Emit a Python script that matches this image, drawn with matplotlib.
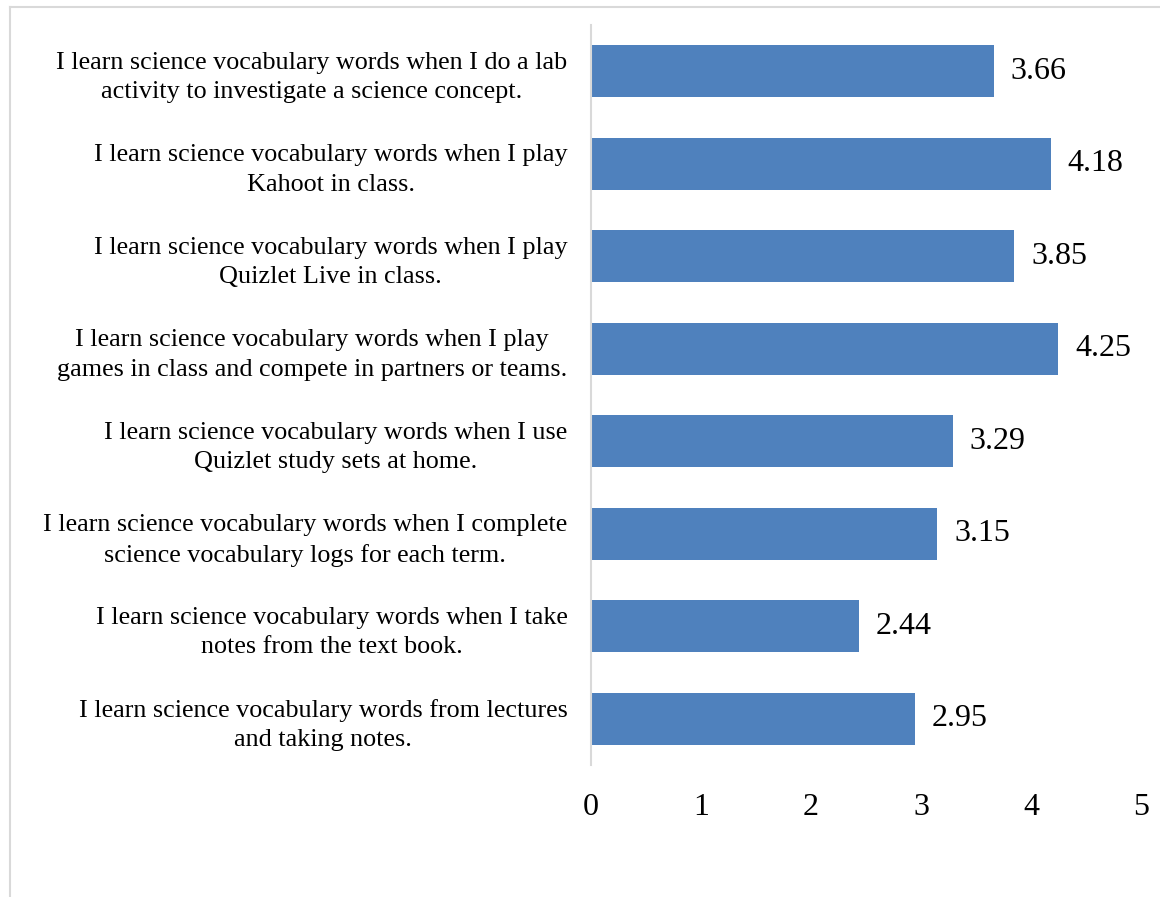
import numpy as np
import matplotlib
matplotlib.use('Agg')
import matplotlib.pyplot as plt
from matplotlib.lines import Line2D

labels = [
    'I learn science vocabulary words when I do a lab\nactivity to investigate a science concept.',
    'I learn science vocabulary words when I play\nKahoot in class.',
    'I learn science vocabulary words when I play\nQuizlet Live in class.',
    'I learn science vocabulary words when I play\ngames in class and compete in partners or teams.',
    'I learn science vocabulary words when I use\nQuizlet study sets at home.',
    'I learn science vocabulary words when I complete\nscience vocabulary logs for each term.',
    'I learn science vocabulary words when I take\nnotes from the text book.',
    'I learn science vocabulary words from lectures\nand taking notes.',
]
values = [3.66, 4.18, 3.85, 4.25, 3.29, 3.15, 2.44, 2.95]
xticks = [0, 1, 2, 3, 4, 5]

plt.rcParams['font.family'] = ['Liberation Serif', 'DejaVu Serif']

fig = plt.figure(figsize=(11.6, 8.97), dpi=100)
ax = fig.add_axes([0.5095, 0.1472, 0.4741, 0.8249])

# bars top to bottom
y = np.arange(len(values))[::-1]
ax.barh(y, values, height=0.56, color='#4F81BD')
for yi, v in zip(y, values):
    ax.text(v + 0.15, yi, '%.2f' % v, va='center', ha='left', fontsize=23)

ax.set_xlim(0, 5)
ax.set_ylim(-0.5, len(values) - 0.5)
ax.set_xticks(xticks)
ax.set_xticklabels([str(t) for t in xticks], fontsize=23)
ax.set_yticks(y)
ax.set_yticklabels(labels, fontsize=18.8, multialignment='center', linespacing=1.45)
ax.tick_params(axis='y', length=0, pad=17)
ax.tick_params(axis='x', length=0, pad=20)

for s in ['top', 'right', 'bottom']:
    ax.spines[s].set_visible(False)
ax.spines['left'].set_color('#D9D9D9')
ax.spines['left'].set_linewidth(1.5)

# outer chart border (left and top visible)
fig.add_artist(Line2D([10 / 1160, 10 / 1160], [0, 1 - 7 / 897], transform=fig.transFigure, color='#D9D9D9', lw=1.5))
fig.add_artist(Line2D([10 / 1160, 1], [1 - 7 / 897, 1 - 7 / 897], transform=fig.transFigure, color='#D9D9D9', lw=1.5))

plt.savefig('out.png', dpi=100)
